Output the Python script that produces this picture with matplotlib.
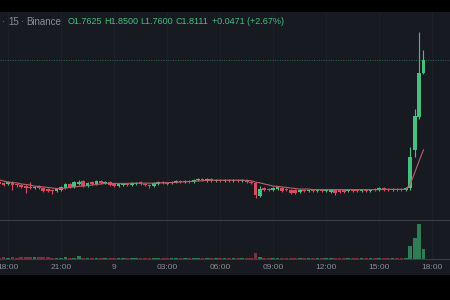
import numpy as np
import matplotlib
matplotlib.use("Agg")
import matplotlib.pyplot as plt
from matplotlib.patches import Rectangle

# 15m candles, BINANCE, from 17:30 (day 8) to 17:30 (day 9)
opens = [1.359, 1.356, 1.352, 1.359, 1.352, 1.348, 1.344, 1.341, 1.337, 1.344,
         1.337, 1.333, 1.330, 1.326, 1.330, 1.337, 1.352, 1.341, 1.352, 1.363,
         1.344, 1.359, 1.352, 1.363, 1.356, 1.359, 1.352, 1.344, 1.348, 1.352,
         1.348, 1.352, 1.359, 1.352, 1.348, 1.344, 1.352, 1.359, 1.356, 1.356,
         1.359, 1.363, 1.359, 1.363, 1.359, 1.367, 1.370, 1.363, 1.370, 1.363,
         1.367, 1.363, 1.367, 1.363, 1.367, 1.363, 1.367, 1.359, 1.356, 1.307,
         1.337, 1.333, 1.330, 1.333, 1.337, 1.333, 1.330, 1.330, 1.322, 1.330,
         1.326, 1.330, 1.326, 1.330, 1.326, 1.322, 1.330, 1.330, 1.330, 1.326,
         1.330, 1.330, 1.326, 1.330, 1.326, 1.333, 1.330, 1.337, 1.333, 1.330,
         1.333, 1.333, 1.330, 1.337, 1.478, 1.600, 1.7625]
closes = [1.352, 1.348, 1.359, 1.348, 1.348, 1.341, 1.337, 1.337, 1.341, 1.337,
          1.326, 1.326, 1.326, 1.333, 1.341, 1.352, 1.341, 1.359, 1.359, 1.344,
          1.356, 1.352, 1.363, 1.356, 1.359, 1.348, 1.344, 1.352, 1.352, 1.348,
          1.356, 1.356, 1.352, 1.348, 1.344, 1.356, 1.359, 1.356, 1.352, 1.359,
          1.363, 1.359, 1.363, 1.359, 1.367, 1.370, 1.367, 1.370, 1.363, 1.367,
          1.363, 1.367, 1.363, 1.367, 1.363, 1.367, 1.359, 1.356, 1.311, 1.333,
          1.330, 1.330, 1.337, 1.341, 1.326, 1.330, 1.319, 1.319, 1.330, 1.326,
          1.330, 1.326, 1.330, 1.326, 1.330, 1.330, 1.319, 1.322, 1.322, 1.330,
          1.326, 1.326, 1.330, 1.326, 1.330, 1.330, 1.337, 1.330, 1.330, 1.333,
          1.330, 1.330, 1.337, 1.452, 1.604, 1.764, 1.8111]
highs = [1.363, 1.359, 1.363, 1.363, 1.356, 1.352, 1.348, 1.359, 1.344, 1.348,
         1.341, 1.337, 1.333, 1.337, 1.344, 1.356, 1.356, 1.363, 1.367, 1.367,
         1.359, 1.363, 1.367, 1.367, 1.363, 1.363, 1.356, 1.356, 1.356, 1.356,
         1.359, 1.359, 1.363, 1.356, 1.352, 1.359, 1.363, 1.363, 1.359, 1.363,
         1.367, 1.367, 1.367, 1.367, 1.370, 1.374, 1.374, 1.374, 1.374, 1.370,
         1.370, 1.370, 1.370, 1.370, 1.370, 1.370, 1.370, 1.363, 1.359, 1.344,
         1.341, 1.337, 1.341, 1.344, 1.341, 1.337, 1.333, 1.333, 1.333, 1.333,
         1.333, 1.333, 1.333, 1.333, 1.333, 1.333, 1.333, 1.333, 1.333, 1.333,
         1.333, 1.333, 1.333, 1.333, 1.333, 1.337, 1.341, 1.341, 1.337, 1.337,
         1.337, 1.337, 1.341, 1.489, 1.630, 1.915, 1.8500]
lows = [1.348, 1.344, 1.348, 1.330, 1.341, 1.337, 1.319, 1.333, 1.333, 1.333,
        1.322, 1.322, 1.315, 1.322, 1.326, 1.333, 1.337, 1.337, 1.348, 1.341,
        1.341, 1.348, 1.348, 1.352, 1.352, 1.344, 1.341, 1.341, 1.344, 1.344,
        1.344, 1.348, 1.348, 1.344, 1.337, 1.341, 1.348, 1.352, 1.348, 1.352,
        1.356, 1.356, 1.356, 1.356, 1.356, 1.363, 1.363, 1.359, 1.359, 1.359,
        1.359, 1.359, 1.359, 1.359, 1.359, 1.359, 1.356, 1.352, 1.300, 1.304,
        1.326, 1.326, 1.326, 1.330, 1.322, 1.326, 1.315, 1.315, 1.319, 1.322,
        1.322, 1.322, 1.322, 1.322, 1.322, 1.319, 1.311, 1.319, 1.319, 1.322,
        1.322, 1.322, 1.322, 1.322, 1.322, 1.326, 1.326, 1.326, 1.326, 1.326,
        1.326, 1.326, 1.326, 1.330, 1.452, 1.593, 1.7600]
volumes = [15, 20, 12, 18, 14, 16, 20, 22, 18, 20,
           24, 20, 15, 14, 12, 16, 14, 13, 28, 12,
           14, 12, 13, 12, 14, 12, 11, 12, 13, 12,
           12, 13, 14, 12, 12, 11, 12, 13, 12, 11,
           12, 12, 13, 12, 11, 12, 13, 12, 11, 12,
           12, 11, 12, 13, 12, 12, 14, 13, 60, 16,
           13, 12, 12, 11, 12, 13, 14, 13, 12, 11,
           12, 12, 11, 12, 12, 13, 14, 12, 12, 11,
           12, 11, 12, 12, 11, 12, 13, 12, 11, 12,
           12, 12, 13, 130, 210, 350, 100]
ma = [1.367, 1.363, 1.359, 1.357, 1.356, 1.352, 1.350, 1.348, 1.344, 1.343,
      1.341, 1.339, 1.337, 1.335, 1.335, 1.337, 1.339, 1.341, 1.343, 1.344,
      1.346, 1.348, 1.350, 1.352, 1.354, 1.354, 1.354, 1.354, 1.354, 1.354,
      1.355, 1.355, 1.355, 1.355, 1.355, 1.355, 1.356, 1.356, 1.357, 1.357,
      1.358, 1.359, 1.360, 1.361, 1.362, 1.363, 1.364, 1.365, 1.366, 1.366,
      1.366, 1.366, 1.366, 1.366, 1.366, 1.366, 1.365, 1.364, 1.359, 1.356,
      1.352, 1.348, 1.344, 1.343, 1.341, 1.339, 1.337, 1.335, 1.333, 1.333,
      1.333, 1.331, 1.331, 1.331, 1.331, 1.331, 1.331, 1.331, 1.331, 1.331,
      1.331, 1.331, 1.331, 1.331, 1.331, 1.331, 1.331, 1.332, 1.332, 1.332,
      1.332, 1.332, 1.332, 1.352, 1.393, 1.437, 1.478]
tick_pos = [0, 12, 24, 36, 48, 60, 72, 84, 96]
tick_labels = ["18:00", "21:00", "9", "03:00", "06:00", "09:00", "12:00", "15:00", "18:00"]

BG = "#171a21"
UP = "#47c07f"
DOWN = "#d84c62"
VUP = "#2f7d55"
VDOWN = "#7e2f3c"
GRAY = "#8b8e96"

o = np.array(opens); c = np.array(closes)
h = np.array(highs); l = np.array(lows)
idx = np.arange(-2, -2 + len(o))
up = c >= o

fig = plt.figure(figsize=(4.5, 3), dpi=100, facecolor="black")
fig.patches.append(Rectangle((0, 25 / 300), 1, 263 / 300, transform=fig.transFigure,
                             facecolor=BG, edgecolor="none", zorder=-10))

ax = fig.add_axes([0, 80 / 300, 1, 208 / 300])
ax.set_xlim(-1.81, 100)
ax.set_ylim(1.2185, 1.9889)
for x in tick_pos:
    ax.axvline(x, color="#1d2028", lw=0.8, zorder=0)

cols = np.where(up, UP, DOWN)
ax.vlines(idx, l, h, colors=cols, lw=0.8, zorder=2)
body_h = np.maximum(np.abs(c - o), 0.003)
ax.bar(idx, body_h, bottom=np.minimum(o, c), width=0.85, color=cols, zorder=3, linewidth=0)
ax.plot(idx, ma, color="#b8616b", lw=0.8, zorder=4)
ax.axhline(c[-1], color="#2d6e50", lw=0.7, ls=(0, (1, 1.5)), zorder=1)
ax.axis("off")

axv = fig.add_axes([0, 41 / 300, 1, 38 / 300])
axv.patch.set_alpha(0)
axv.set_xlim(-1.81, 100)
axv.set_ylim(0, 380)
for x in tick_pos:
    axv.axvline(x, color="#1d2028", lw=0.8, zorder=0)
axv.bar(idx, volumes, width=0.85, color=np.where(up, VUP, VDOWN), linewidth=0, zorder=2)
for s in axv.spines.values():
    s.set_visible(False)
axv.spines["bottom"].set_visible(True)
axv.spines["bottom"].set_color("#3a3d45")
axv.spines["bottom"].set_linewidth(0.8)
axv.set_yticks([])
axv.set_xticks(tick_pos)
axv.set_xticklabels(tick_labels, color=GRAY, fontsize=6, family="Liberation Sans")
axv.tick_params(axis="x", length=0, pad=3.5)

# pane separator
fig.add_artist(plt.Line2D([0, 1], [80 / 300, 80 / 300], transform=fig.transFigure,
                          color="#3a3d45", lw=0.8))

# header
ty = 1 - 22 / 300
hdr = [(2, "·", GRAY), (8, "15", GRAY), (21, "·", GRAY), (26, "Binance", GRAY),
       (68, "O1.7625", UP), (104, "H1.8500", UP), (140, "L1.7600", UP),
       (176, "C1.8111", UP), (212, "+0.0471 (+2.67%)", UP)]
for px, txt, col in hdr:
    fs = 7 if col == GRAY else 6.5
    fig.text(px / 450, ty, txt, color=col, fontsize=fs, family="Liberation Sans",
             va="center", ha="left")

plt.savefig("out.png", dpi=100, facecolor="black")
